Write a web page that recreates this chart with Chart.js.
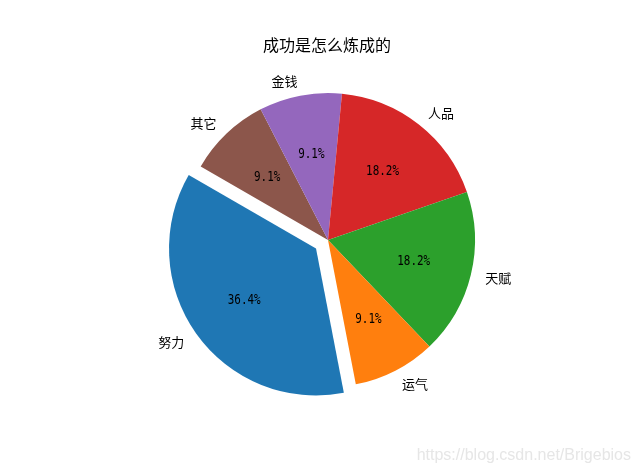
<!DOCTYPE html>
<html>
<head>
<meta charset="utf-8">
<script src="https://cdn.jsdelivr.net/npm/chart.js@4/dist/chart.umd.min.js"></script>
<style>
html,body{margin:0;padding:0;background:#fff;}
#wrap{position:relative;width:640px;height:476px;}
</style>
</head>
<body>
<div id="wrap"><canvas id="c" width="640" height="476"></canvas></div>
<script>
// Data (matplotlib order, counter-clockwise from startangle)
const titleText = '成功是怎么炼成的';
const labels = ['努力', '运气', '天赋', '人品', '金钱', '其它'];
const values = [4, 1, 2, 2, 1, 1];
const explode = [0.1, 0, 0, 0, 0, 0];
const colors = ['#1f77b4', '#ff7f0e', '#2ca02c', '#d62728', '#9467bd', '#8c564b'];
const watermark = 'https://blog.csdn.net/Brigebios';

// Chart.js draws clockwise, matplotlib counter-clockwise: reverse the order
const rLabels = labels.slice().reverse();
const rValues = values.slice().reverse();
const rExplode = explode.slice().reverse();
const rColors = colors.slice().reverse();
const total = values.reduce((a, b) => a + b, 0);

const CJK = '"Noto Sans CJK SC", "Noto Sans", sans-serif';

const piePlugin = {
  id: 'piePlugin',
  beforeDatasetDraw(chart, args) {
    const ctx = chart.ctx;
    const meta = args.meta;
    meta.data.forEach((el, i) => {
      const mid = (el.startAngle + el.endAngle) / 2;
      const d = rExplode[i] * el.outerRadius;
      ctx.save();
      ctx.translate(Math.cos(mid) * d, Math.sin(mid) * d);
      el.draw(ctx);
      ctx.restore();
    });
    return false;
  },
  afterDatasetsDraw(chart) {
    const ctx = chart.ctx;
    const meta = chart.getDatasetMeta(0);
    meta.data.forEach((el, i) => {
      const mid = (el.startAngle + el.endAngle) / 2;
      const r = el.outerRadius;
      const d = rExplode[i] * r;
      const cx = el.x + Math.cos(mid) * d;
      const cy = el.y + Math.sin(mid) * d;
      // outer label
      const lx = cx + Math.cos(mid) * r * 1.1;
      const ly = cy + Math.sin(mid) * r * 1.1;
      ctx.save();
      ctx.fillStyle = '#000';
      ctx.font = '13px ' + CJK;
      ctx.textBaseline = 'middle';
      ctx.textAlign = Math.cos(mid) > 0 ? 'left' : 'right';
      ctx.fillText(rLabels[i], lx, ly);
      // percentage
      const px = cx + Math.cos(mid) * r * 0.6;
      const py = cy + Math.sin(mid) * r * 0.6;
      const pct = (rValues[i] / total * 100).toFixed(1) + '%';
      ctx.translate(px, py);
      ctx.scale(0.78, 1);
      ctx.font = '14px "DejaVu Sans Mono", "Liberation Mono", monospace';
      ctx.textAlign = 'center';
      ctx.fillText(pct, 0, 1);
      ctx.restore();
    });
    // title
    ctx.save();
    ctx.fillStyle = '#000';
    ctx.font = '16px ' + CJK;
    ctx.textAlign = 'center';
    ctx.textBaseline = 'middle';
    ctx.fillText(titleText, 327, 45);
    // watermark
    ctx.fillStyle = '#e6e6e6';
    ctx.font = '16px "Liberation Sans", Arial, sans-serif';
    ctx.textAlign = 'right';
    ctx.fillText(watermark, 631, 456);
    ctx.restore();
  }
};

new Chart(document.getElementById('c'), {
  type: 'pie',
  data: {
    labels: rLabels,
    datasets: [{
      data: rValues,
      backgroundColor: rColors,
      borderWidth: 0,
      offset: 0
    }]
  },
  options: {
    responsive: false,
    animation: false,
    devicePixelRatio: 1,
    rotation: -60,
    radius: 147,
    layout: { padding: { left: 16, right: 0, top: 4, bottom: 0 } },
    plugins: {
      legend: { display: false },
      title: { display: false },
      tooltip: { enabled: false }
    },
    events: []
  },
  plugins: [piePlugin]
});
</script>
</body>
</html>
